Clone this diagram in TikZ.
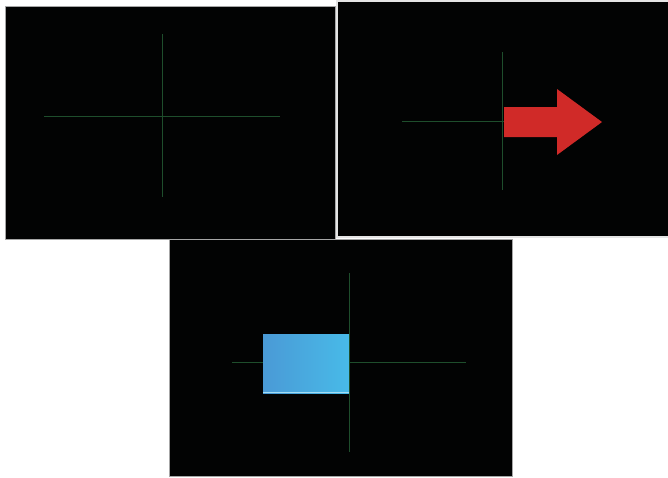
\documentclass[tikz,border=0pt]{standalone}
\usetikzlibrary{positioning}
\definecolor{panelbg}{RGB}{2,3,3}
\definecolor{crossgreen}{RGB}{30,78,44}
\definecolor{arrowred}{RGB}{208,42,40}
\definecolor{boxblueL}{RGB}{74,154,214}
\definecolor{boxblueR}{RGB}{72,186,232}

\begin{document}
\begin{tikzpicture}[x=1pt,y=-1pt,
    panel/.style={draw=gray!70,fill=panelbg,line width=0.8pt},
    axis/.style={draw=crossgreen,line width=0.9pt}]
\useasboundingbox (0,0) rectangle (668,477);

% three screens
\draw[panel] (5,6) rectangle (335,239);
\draw[panel,draw=gray!20,line width=1.6pt] (337,1) rectangle (670,237);
\draw[panel] (169,239) rectangle (512,476);

% crosshair centres
\coordinate (cA) at (162,116);
\coordinate (cB) at (502,121);
\coordinate (cC) at (349,362);

% top left
\draw[axis] (cA) ++(-118,0) -- ++(236,0);
\draw[axis] (cA) ++(0,-82) -- ++(0,163);

% top right, with the arrow
\draw[axis] (cB) ++(-100,0) -- ++(102,0);
\draw[axis] (cB) ++(0,-69) -- ++(0,138);
\fill[arrowred] (504,107) -- (557,107) -- (557,89) -- (602,122)
  -- (557,155) -- (557,137) -- (504,137) -- cycle;

% bottom, with the box
\draw[axis] (cC) ++(-117,0) -- ++(234,0);
\shade[left color=boxblueL,right color=boxblueR] (263,334) rectangle (349,393);
\draw[boxblueR!50!white,line width=0.8pt] (263,392.6) -- (349,392.6);
\draw[axis] (cC) ++(0,-89) -- ++(0,179);
\end{tikzpicture}
\end{document}
